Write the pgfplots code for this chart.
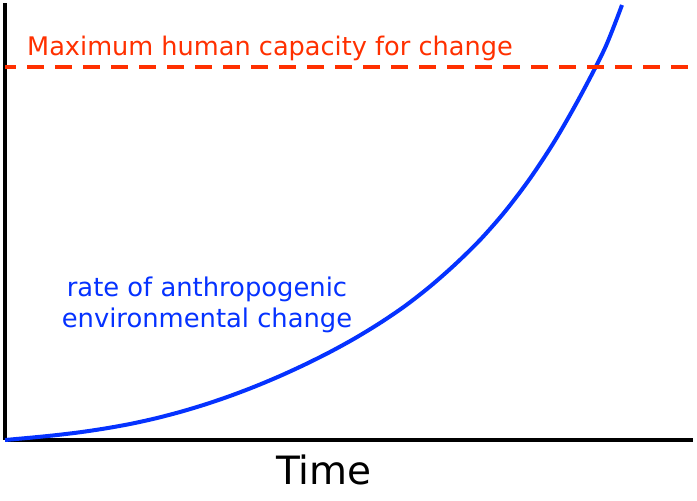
\documentclass[border=0pt]{standalone}
\usepackage{pgfplots}
\pgfplotsset{compat=1.18}
\usepackage{fontspec}
\setmainfont{DejaVu Sans}
\definecolor{capred}{RGB}{255,48,0}
\definecolor{curveblue}{RGB}{5,50,255}
\begin{document}
\begin{tikzpicture}
\begin{axis}[
  at={(5pt,61pt)}, anchor=south west,
  scale only axis,
  width=688pt, height=437pt,
  xmin=0, xmax=688, ymin=0, ymax=437,
  axis x line*=bottom, axis y line*=left,
  axis line style={line width=3.5pt,-},
  ticks=none,
  clip=false,
]
\addplot[curveblue, line width=4pt, smooth, tension=0.5] coordinates {
(0,0) (25,2.25) (50,4.75) (75,7.75) (100,11.5) (125,16) (150,21.5) (175,28)
(200,35.5) (225,44) (250,53.5) (275,64) (300,75.5) (325,88) (350,101.75)
(375,117) (400,134) (425,153.5) (450,175.5) (475,200) (500,228.5) (525,261.5)
(550,299.5) (575,343.25) (600,392) (617,435)
};
\addplot[capred, line width=4pt, dash pattern=on 17pt off 11pt, dash phase=6pt] coordinates {(0,373) (688,373)};
\node[anchor=base west, text=capred, font=\fontsize{25.6}{30}\selectfont, inner sep=0pt] at (axis cs:22,384) {Maximum human capacity for change};
\node[anchor=base, text=curveblue, font=\fontsize{25.8}{30}\selectfont, inner sep=0pt] at (axis cs:202,143) {rate of anthropogenic};
\node[anchor=base, text=curveblue, font=\fontsize{25.8}{30}\selectfont, inner sep=0pt] at (axis cs:202,112) {environmental change};
\node[anchor=base, text=black, font=\fontsize{39}{45}\selectfont, inner sep=0pt] at (axis cs:319,-45) {Time};
\end{axis}
\pgfresetboundingbox
\path (0,0) rectangle (697pt,501pt);
\end{tikzpicture}
\end{document}
